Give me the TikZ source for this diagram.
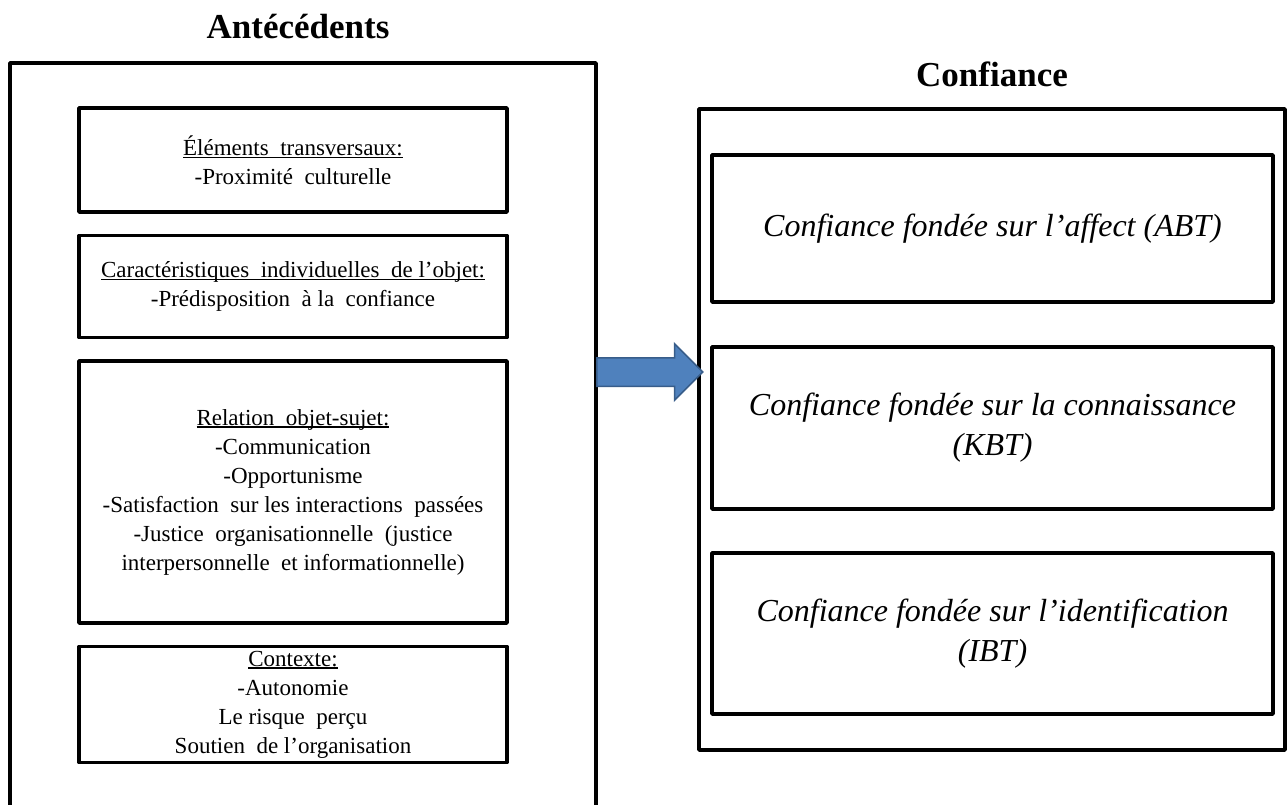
\documentclass[tikz,border=0pt]{standalone}
\usepackage{fontspec}
\setmainfont{Liberation Serif}
\usepackage{xcolor}
\usetikzlibrary{positioning, shapes.arrows}
\definecolor{bleufleche}{HTML}{4F81BD}
\definecolor{bordfleche}{HTML}{385D8A}
\newcommand\souligne[1]{\setbox0=\hbox{#1}\rlap{\rule[-2.5pt]{\wd0}{1.2pt}}\box0}

\begin{document}
\begin{tikzpicture}[x=1pt, y=-1pt, node distance=23.5pt,
  cadre/.style={draw, line width=3.5pt, line join=round, inner sep=0pt, outer sep=0pt},
  bloc/.style={cadre, minimum width=428pt, align=center, font=\fontsize{23}{29}\selectfont},
  confbloc/.style={cadre, minimum width=561pt, align=center, font=\fontsize{32}{40}\selectfont\itshape},
  titre/.style={anchor=base, font=\fontsize{35}{40}\selectfont\bfseries},
  fleche/.style={single arrow, fill=bleufleche, draw=bordfleche, line width=1.5pt,
    inner sep=13.5pt, single arrow head extend=14pt, minimum height=106pt, anchor=tail}]
\useasboundingbox (0,0) rectangle (1287,805);
\clip (0,0) rectangle (1287,805);

% Antécédents
\node[titre] (titreA) at (298,39) {Antécédents};
\node[cadre, minimum width=586pt, minimum height=780pt, anchor=north] (antecedents) at (303,63) {};
\node[bloc, minimum height=104pt] (transv) at (293,160)
  {\souligne{Éléments\ \ transversaux:}\\-Proximité\ \ culturelle};
\node[bloc, minimum height=102pt, below=of transv] (indiv)
  {\souligne{Caractéristiques\ \ individuelles\ \ de l’objet:}\\-Prédisposition\ \ à la\ \ confiance};
\node[bloc, minimum height=262pt, below=of indiv] (relation)
  {\souligne{Relation\ \ objet-sujet:}\\-Communication\\-Opportunisme\\
   -Satisfaction\ \ sur les\ interactions\ \ passées\\
   -Justice\ \ organisationnelle\ \ (justice\\interpersonnelle\ \ et informationnelle)};
\node[bloc, minimum height=116pt, below=of relation] (contexte)
  {\souligne{Contexte:}\\-Autonomie\\Le risque\ \ perçu\\Soutien\ \ de l’organisation};

% Confiance
\node[titre] (titreC) at (992,87) {Confiance};
\node[cadre, minimum width=586pt, minimum height=641pt] (confiance) at (992,429.5) {};
\node[confbloc, minimum height=147pt, anchor=north] (abt) at (992.5,155)
  {Confiance fondée sur l’affect (ABT)};
\node[confbloc, minimum height=162pt, below=45pt of abt] (kbt)
  {Confiance fondée sur la connaissance\\(KBT)};
\node[confbloc, minimum height=161pt, below=44pt of kbt] (ibt)
  {Confiance fondée sur l’identification\\(IBT)};

% Flèche
\coordinate (depart) at (596,372);
\node[fleche] (lien) at (depart) {};
\end{tikzpicture}
\end{document}
